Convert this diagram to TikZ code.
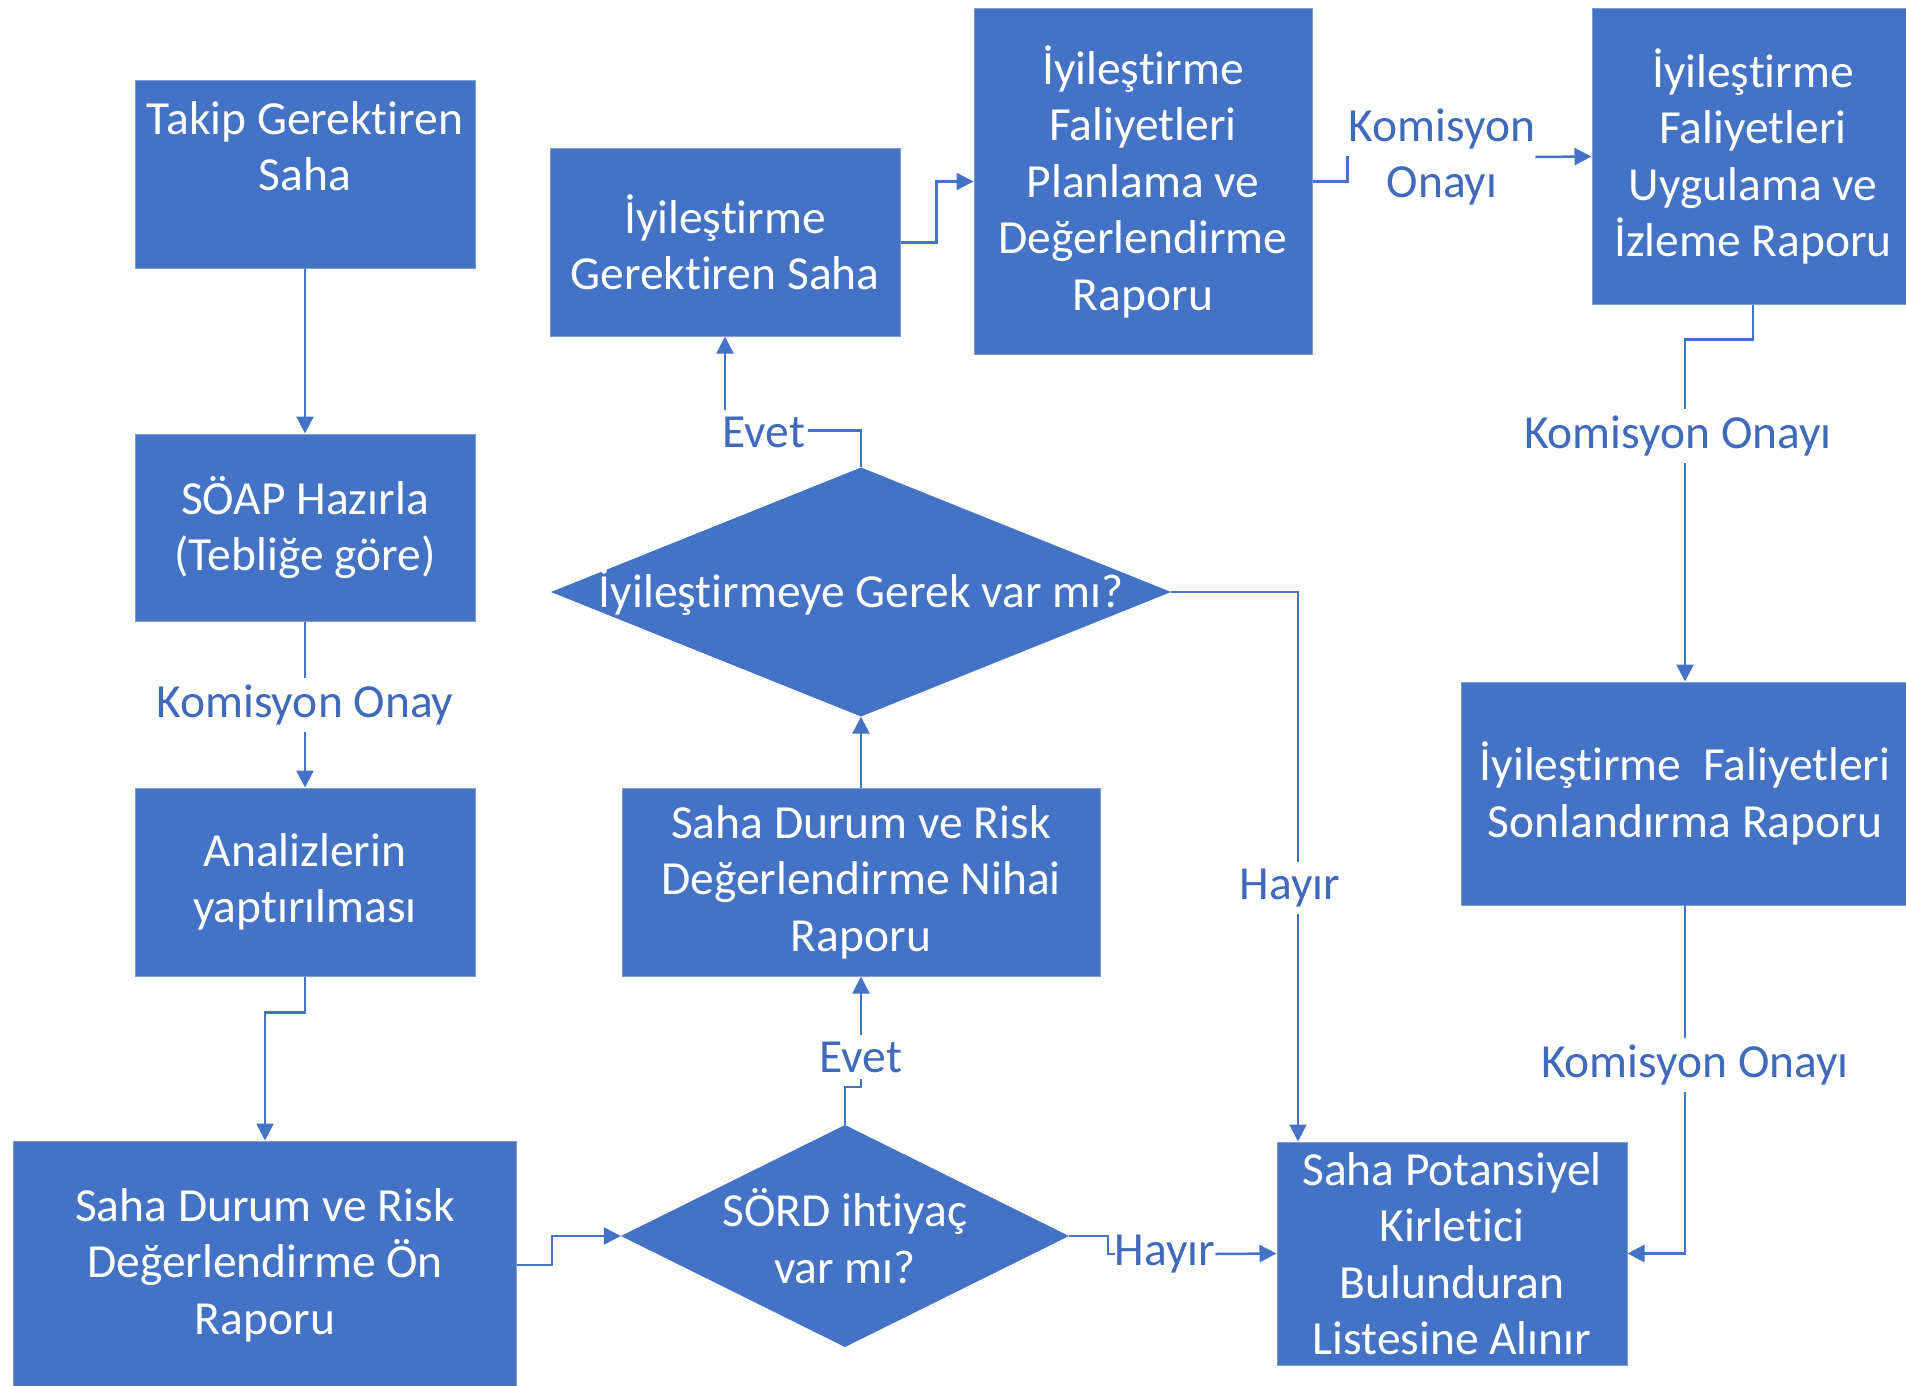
\documentclass[tikz,border=0pt]{standalone}
\usepackage{fontspec}
\setmainfont{Carlito}[Ligatures={NoCommon}]
\usetikzlibrary{arrows.meta,calc}
\definecolor{boxblue}{HTML}{4472C4}
\definecolor{edgeblue}{HTML}{7F9BD6}
\definecolor{lineblue}{HTML}{4472C4}
\definecolor{lblblue}{HTML}{3F69BA}
\newcommand{\bigtxt}{\fontsize{47.5}{56.5}\selectfont}
\tikzset{
  box/.style={rectangle, fill=boxblue, draw=edgeblue, line width=1pt, text=white,
    inner sep=0pt, align=center, font=\bigtxt},
  dmd/.style={rectangle, inner sep=0pt, text=white, align=center, font=\bigtxt,
    path picture={\fill[boxblue] (path picture bounding box.north) -- (path picture bounding box.east)
      -- (path picture bounding box.south) -- (path picture bounding box.west) -- cycle;}},
  lbl/.style={text=lblblue, font=\bigtxt, inner xsep=3pt, inner ysep=7pt, fill=white, align=center},
  lblbare/.style={text=lblblue, font=\bigtxt, inner xsep=0pt, inner ysep=7pt, align=center},
  conn/.style={draw=lineblue, line width=2.5pt},
  arr/.style={conn, -{Triangle[length=17pt,width=17pt]}}
}
\begin{document}
\begin{tikzpicture}[x=1pt,y=-1pt]
\useasboundingbox (0,0) rectangle (1906,1386);
\clip (0,0) rectangle (1906,1386);
\fill[white] (0,0) rectangle (1906,1386);

% boxes
\node[box, minimum width=340pt, minimum height=187pt] (takip) at (305,174.5) {Takip Gerektiren\\Saha\\\mbox{}};
\node[box, minimum width=340pt, minimum height=187pt] (soap) at (305,527.5) {SÖAP Hazırla\\(Tebliğe göre)};
\node[box, minimum width=340pt, minimum height=188pt] (analiz) at (305,882) {Analizlerin\\yaptırılması};
\node[box, minimum width=503pt, minimum height=248pt] (onrap) at (265,1265) {Saha Durum ve Risk\\Değerlendirme Ön\\Raporu};
\node[box, minimum width=350pt, minimum height=187pt] (ig) at (725,242.5) {İyileştirme\\Gerektiren Saha};
\node[box, minimum width=338pt, minimum height=345pt] (plan) at (1143,181.5) {İyileştirme\\Faliyetleri\\Planlama ve\\Değerlendirme\\Raporu};
\node[box, minimum width=322pt, minimum height=295pt] (uyg) at (1753,156.5) {İyileştirme\\Faliyetleri\\Uygulama ve\\İzleme Raporu};
\node[box, minimum width=448pt, minimum height=223pt] (son) at (1685,793.5) {İyileştirme~~Faliyetleri\\Sonlandırma Raporu};
\node[box, minimum width=478pt, minimum height=188pt] (nihai) at (861,882) {Saha Durum ve Risk\\Değerlendirme Nihai\\Raporu};
\node[box, minimum width=350pt, minimum height=223pt] (sp) at (1452,1253.5) {Saha Potansiyel\\Kirletici\\Bulunduran\\Listesine Alınır};

% decisions
\node[dmd, minimum width=620pt, minimum height=249pt] (dia) at (861,592) {İyileştirmeye Gerek var mı?};
\node[dmd, minimum width=448pt, minimum height=222pt] (sord) at (845,1236) {SÖRD ihtiyaç\\var mı?};

% bare labels used as connector ends
\node[lblbare] (k2) at (1442,157) {Komisyon\\Onayı};
\node[lblbare] (h2) at (1165,1254) {Hayır};

% connectors
\draw[arr] (takip) -- (soap);
\draw[arr] (soap) -- (analiz);
\draw[arr] (analiz.south) -- ++(0,36) -| (onrap.north);
\draw[arr] (onrap.east) -- ++(35,0) |- (sord.west);
\draw[arr] (sord.north) -- ++(0,-38) -| (nihai.south);
\draw[arr] (nihai) -- (dia);
\draw[arr] (dia.north) -- ++(0,-37) -| (ig.south);
\draw[arr] (ig.east) -- ++(36,0) |- (plan.west);
\draw[conn] (plan.east) -- ++(35,0) |- (k2.west);
\draw[arr] (k2.east) -- (uyg.west);
\draw[arr] (uyg.south) -- ++(0,35) -| (son.north);
\draw[arr] (son.south) |- (sp.east);
\draw[arr] (dia.east) -| ([xshift=-154pt]sp.north);
\draw[conn] (sord.east) -- ++(39,0) |- (h2.west);
\draw[arr] (h2.east) -- (sp.west);

% labels on connectors
\node[lbl] (k1) at (305,705) {Komisyon Onay};
\node[lbl] (ev1) at (764,432) {Evet};
\node[lbl] (ev2) at (861,1057) {Evet};
\node[lbl] (h1) at (1290,888) {Hayır};
\node[lbl] (k3) at (1678,436) {Komisyon Onayı};
\node[lbl] (k4) at (1695,1065) {Komisyon Onayı};
\end{tikzpicture}
\end{document}
